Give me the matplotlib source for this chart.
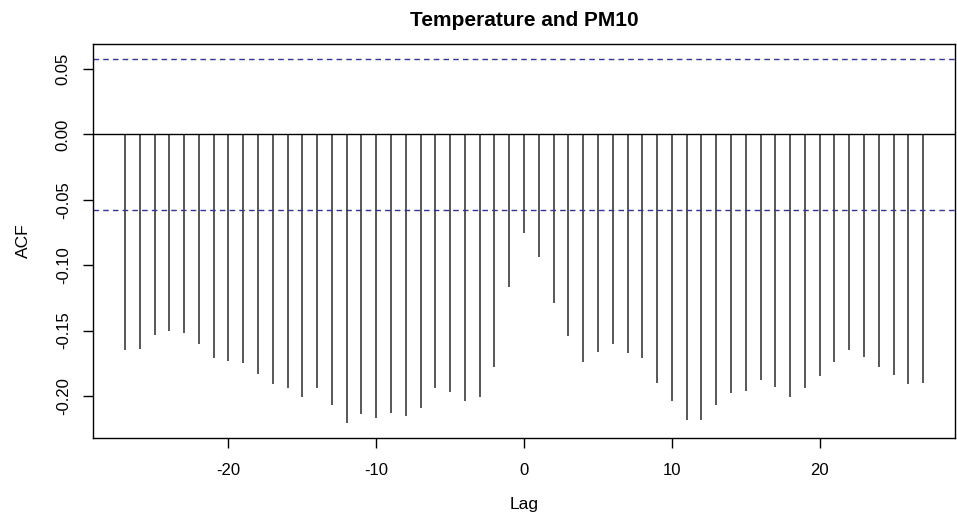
import numpy as np
import matplotlib
matplotlib.use("Agg")
import matplotlib.pyplot as plt
from matplotlib.ticker import FixedLocator, FuncFormatter

plt.rcParams['font.family'] = ['Liberation Sans', 'DejaVu Sans']
plt.rcParams['axes.unicode_minus'] = False

lags = list(range(-27, 28))
acf = [
    -0.165, -0.164, -0.153, -0.150, -0.152, -0.160, -0.171, -0.173, -0.175, -0.183,
    -0.191, -0.194, -0.201, -0.194, -0.207, -0.221, -0.214, -0.217, -0.213, -0.215,
    -0.209, -0.194, -0.197, -0.204, -0.201, -0.178, -0.117, -0.075, -0.094, -0.129,
    -0.154, -0.174, -0.166, -0.160, -0.167, -0.171, -0.190, -0.204, -0.218, -0.218,
    -0.207, -0.198, -0.196, -0.188, -0.193, -0.201, -0.194, -0.185, -0.174, -0.165,
    -0.170, -0.178, -0.184, -0.191, -0.190,
]
ci = 0.058
title = "Temperature and PM10"
xticks = [-20, -10, 0, 10, 20]
yticks = [0.05, 0.00, -0.05, -0.10, -0.15, -0.20]

fig = plt.figure(figsize=(9.57, 5.12), dpi=100)
ax = fig.add_axes([0.0972, 0.1445, 0.9008, 0.7695])

ax.vlines(lags, 0, acf, colors='#2a2a2a', linewidth=1.1)
ax.axhline(0, color='black', linewidth=1.0)
ax.axhline(ci, color='#34349a', linewidth=1.0, linestyle=(0, (4, 3)))
ax.axhline(-ci, color='#34349a', linewidth=1.0, linestyle=(0, (4, 3)))

lo = min(min(acf), -ci)
hi = max(max(acf), ci)
r = hi - lo
ax.set_ylim(lo - 0.04 * r, hi + 0.04 * r)
xr = lags[-1] - lags[0]
ax.set_xlim(lags[0] - 0.04 * xr, lags[-1] + 0.04 * xr)

ax.xaxis.set_major_locator(FixedLocator(xticks))
ax.yaxis.set_major_locator(FixedLocator(yticks))
ax.yaxis.set_major_formatter(FuncFormatter(lambda v, p: f"{v:.2f}".replace("-0.00", "0.00")))
ax.tick_params(axis='both', direction='out', length=7, width=1, labelsize=12, colors='black')
ax.tick_params(axis='x', pad=11)
ax.tick_params(axis='y', pad=9)
for lab in ax.get_yticklabels():
    lab.set_rotation(90)
    lab.set_va('center')
for s in ax.spines.values():
    s.set_linewidth(1.0)
    s.set_color('black')

ax.set_title(title, fontsize=15, fontweight='bold', pad=13)
ax.set_xlabel("Lag", fontsize=12.5, labelpad=14)
ax.set_ylabel("ACF", fontsize=12.5, labelpad=18)

fig.savefig("out.png", dpi=100)
